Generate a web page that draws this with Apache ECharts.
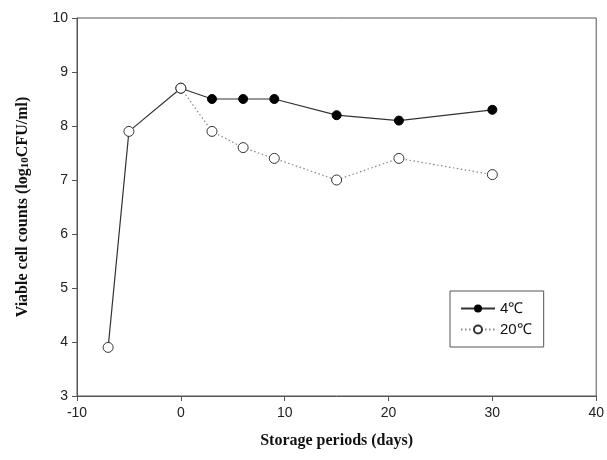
<!DOCTYPE html>
<html><head><meta charset="utf-8">
<script src="https://cdn.jsdelivr.net/npm/echarts@6/dist/echarts.min.js"></script>
<style>html,body{margin:0;padding:0;background:#fff}#c{width:607px;height:460px}</style>
</head><body><div id="c"></div>
<script>
const preDays = [-7, -5, 0];
const preValues = [3.9, 7.9, 8.7];
const days = [0, 3, 6, 9, 15, 21, 30];
const values4C = [8.7, 8.5, 8.5, 8.5, 8.2, 8.1, 8.3];
const values20C = [8.7, 7.9, 7.6, 7.4, 7.0, 7.4, 7.1];
const xTicks = [-10, 0, 10, 20, 30, 40];
const yTicks = [3, 4, 5, 6, 7, 8, 9, 10];

const pair = (xs, ys) => xs.map((x, i) => [x, ys[i]]);
const chart = echarts.init(document.getElementById('c'));
const axisCol = '#555';
chart.setOption({
  animation: false,
  grid: {left: 77, right: 7, top: 18, bottom: 64, show: true, borderColor: axisCol, borderWidth: 1},
  legend: {
    left: 450, top: 291, orient: 'vertical', itemGap: 6,
    padding: [10, 12, 10, 10], borderColor: '#555', borderWidth: 1,
    itemWidth: 34, itemHeight: 10,
    textStyle: {fontFamily: 'Liberation Sans', fontSize: 15, color: '#111'},
    data: ['4℃', '20℃']
  },
  xAxis: {
    type: 'value', min: xTicks[0], max: xTicks[xTicks.length - 1], interval: 10,
    name: 'Storage periods (days)', nameLocation: 'middle', nameGap: 37,
    nameTextStyle: {fontFamily: 'Liberation Serif', fontWeight: 'bold', fontSize: 16, color: '#111'},
    axisLine: {onZero: false, lineStyle: {color: axisCol}}, axisTick: {show: true, length: 5, lineStyle: {color: axisCol}},
    axisLabel: {fontFamily: 'Liberation Sans', fontSize: 14, color: '#222', margin: 10},
    splitLine: {show: false}
  },
  yAxis: {
    type: 'value', min: yTicks[0], max: yTicks[yTicks.length - 1], interval: 1,
    name: '{a|Viable cell counts (log}{s|10}{a|CFU/ml)}', nameLocation: 'middle', nameGap: 46, nameRotate: 90,
    nameTextStyle: {
      rich: {
        a: {fontFamily: 'Liberation Serif', fontWeight: 'bold', fontSize: 16, color: '#111'},
        s: {fontFamily: 'Liberation Serif', fontWeight: 'bold', fontSize: 11, color: '#111', padding: [6, 0, 0, 0]}
      }
    },
    axisLine: {show: true, onZero: false, lineStyle: {color: axisCol}}, axisTick: {show: true, length: 5, lineStyle: {color: axisCol}},
    axisLabel: {fontFamily: 'Liberation Sans', fontSize: 14, color: '#222', margin: 9},
    splitLine: {show: false}
  },
  series: [
    {
      name: '4℃', type: 'line', data: pair(days, values4C), z: 3,
      symbol: 'circle', symbolSize: 9,
      lineStyle: {color: '#333', width: 1.2},
      itemStyle: {color: '#000', borderColor: '#000'}
    },
    {
      name: '20℃', type: 'line', data: pair(days, values20C), z: 2,
      symbol: 'circle', symbolSize: 10,
      lineStyle: {color: '#888', width: 1.2, type: [1.5, 2.5]},
      itemStyle: {color: '#fff', borderColor: '#333', borderWidth: 1}
    },
    {
      name: 'pre', type: 'line', data: pair(preDays, preValues), z: 4,
      symbol: 'circle', symbolSize: 10,
      lineStyle: {color: '#333', width: 1.2},
      itemStyle: {color: '#fff', borderColor: '#333', borderWidth: 1}
    }
  ]
});
</script></body></html>
